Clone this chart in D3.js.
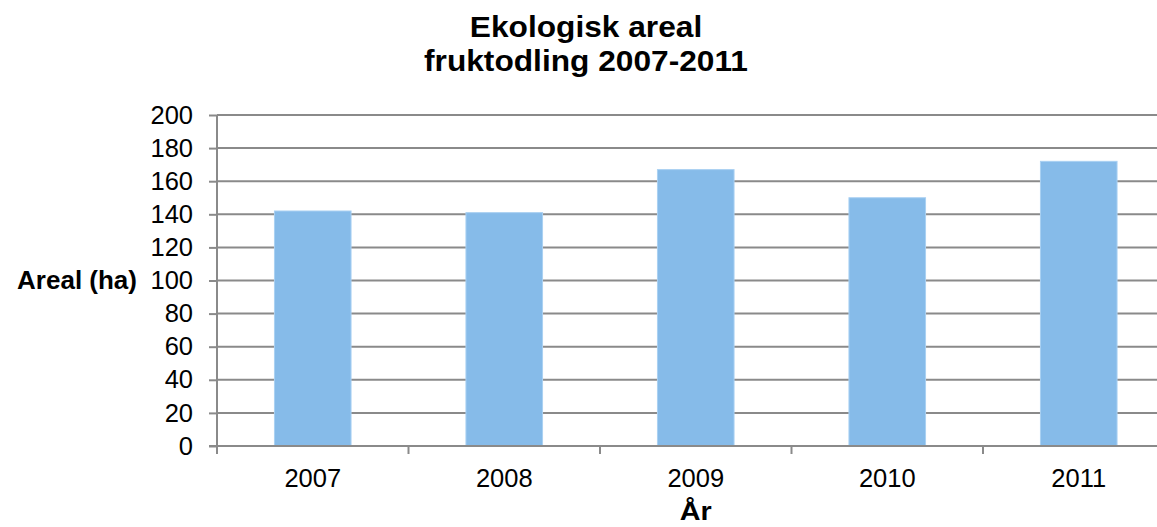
<!DOCTYPE html>
<html><head><meta charset="utf-8">
<script src="https://cdn.jsdelivr.net/npm/d3@7"></script>
<style>html,body{margin:0;padding:0;background:#fff;overflow:hidden}</style>
</head><body><svg id="c" width="1157" height="527"></svg>
<script>
const categories = ["2007","2008","2009","2010","2011"];
const values = [142, 141, 167, 150, 172];
const yTicks = [0,20,40,60,80,100,120,140,160,180,200];
const titleLines = ["Ekologisk areal","fruktodling 2007-2011"];
const yTitle = "Areal (ha)";
const xTitle = "År";

(function(){
const svg = d3.select("#c");
const font = "'Liberation Sans', Arial, sans-serif";
const pL = 217, pR = 1174.5, pT = 115, pB = 446;
const x = d3.scaleBand().domain(categories).range([pL, pR]).paddingInner(0.6).paddingOuter(0.3);
const y = d3.scaleLinear().domain([0,200]).range([pB, pT]);
const grey = "#8a8a8a";

svg.append("g").selectAll("line").data(yTicks.filter(d=>d>0)).join("line")
  .attr("x1", pL).attr("x2", pR).attr("y1", d=>y(d)).attr("y2", d=>y(d))
  .attr("stroke", grey).attr("stroke-width", 2);

svg.append("g").selectAll("rect").data(categories).join("rect")
  .attr("x", d=>x(d)).attr("width", x.bandwidth())
  .attr("y", (d,i)=>y(values[i])).attr("height", (d,i)=>y(0)-y(values[i]))
  .attr("fill", "#86bbe9").attr("stroke","#a9d0f2").attr("stroke-width",1);

const ya = svg.append("g").attr("transform", `translate(${pL},0)`)
  .call(d3.axisLeft(y).tickValues(yTicks).tickSize(8).tickPadding(16));
ya.select(".domain").attr("stroke", grey).attr("stroke-width", 2).attr("d", `M0,${pB+8}V${pT}`);
ya.selectAll(".tick line").attr("stroke", grey).attr("stroke-width", 2);
ya.selectAll(".tick text").attr("font-family", font).attr("font-size", 25.5).attr("fill","#000");

const step = x.step();
const bounds = d3.range(categories.length+1).map(i=>pL + i*step);
svg.append("line").attr("x1", pL-8).attr("x2", pR).attr("y1", pB).attr("y2", pB)
  .attr("stroke", grey).attr("stroke-width", 2);
svg.append("g").selectAll("line").data(bounds).join("line")
  .attr("x1", d=>d).attr("x2", d=>d).attr("y1", pB).attr("y2", pB+8)
  .attr("stroke", grey).attr("stroke-width", 2);
svg.append("g").selectAll("text").data(categories).join("text")
  .attr("x", d=>x(d)+x.bandwidth()/2).attr("y", 487)
  .attr("text-anchor","middle").attr("font-family", font).attr("font-size", 25.5).text(d=>d);

svg.append("g").selectAll("text").data(titleLines).join("text")
  .attr("transform", (d,i)=>`translate(586,${36.7+i*34}) scale(1.093,1)`).attr("text-anchor","middle")
  .attr("font-family", font).attr("font-weight","bold").attr("font-size", 29).text(d=>d);
svg.append("text").attr("transform", "translate(137,289) scale(1.04,1)").attr("text-anchor","end")
  .attr("font-family", font).attr("font-weight","bold").attr("font-size", 25).text(yTitle);
svg.append("text").attr("transform", `translate(${x("2009")+x.bandwidth()/2},520) scale(1.15,1)`).attr("text-anchor","middle")
  .attr("font-family", font).attr("font-weight","bold").attr("font-size", 25).text(xTitle);
})();
</script></body></html>
